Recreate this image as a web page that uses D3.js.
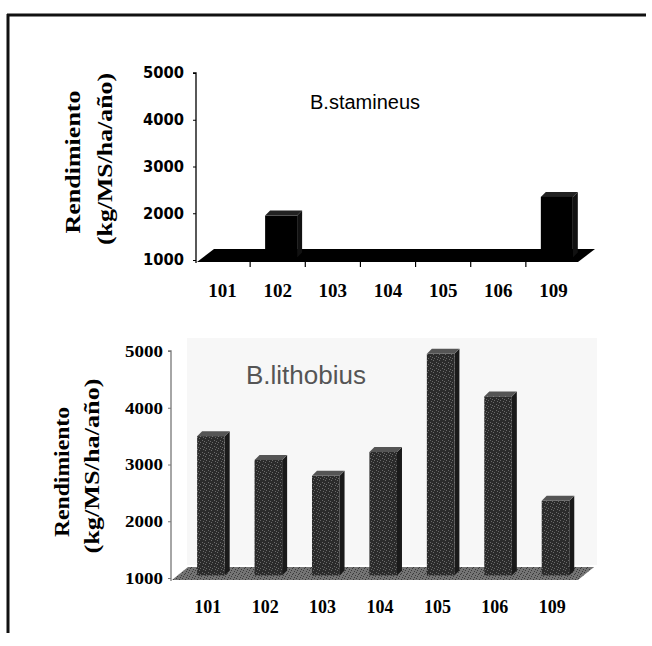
<!DOCTYPE html>
<html>
<head>
<meta charset="utf-8">
<script src="https://cdn.jsdelivr.net/npm/d3@7"></script>
<style>
  body { margin: 0; background: #fff; }
  svg { display: block; }
  .axis-title { font-family: "Liberation Serif", serif; font-weight: bold; font-size: 20px; }
  .chart-title { font-family: "Liberation Sans", Arial, sans-serif; }
</style>
</head>
<body>
<svg id="chart" width="652" height="646"></svg>
<script>
// data
var categories = ["101", "102", "103", "104", "105", "106", "109"];
var stamineusValues = [1000, 1950, 1000, 1000, 1000, 1000, 2350];
var lithobiusValues = [3500, 3080, 2800, 3220, 4950, 4200, 2360];
var yTicks = [1000, 2000, 3000, 4000, 5000];
var yLabelLines = ["Rendimiento", "(kg/MS/ha/año)"];

var svg = d3.select("#chart");

// texture patterns (fixed dots, just for the print look)
var defs = svg.append("defs");
function speckle(id, base, dot, dots) {
  var p = defs.append("pattern").attr("id", id)
    .attr("patternUnits", "userSpaceOnUse").attr("width", 6).attr("height", 6);
  p.append("rect").attr("width", 6).attr("height", 6).attr("fill", base);
  dots.forEach(function(d) {
    p.append("rect").attr("x", d[0]).attr("y", d[1]).attr("width", 1).attr("height", 1).attr("fill", dot);
  });
}
speckle("barTex", "#2b2b2b", "#6a6a6a", [[1, 0], [4, 2], [2, 4], [5, 5], [0, 3]]);
speckle("floorTex", "#747474", "#3a3a3a", [[0, 1], [3, 0], [5, 3], [2, 2], [1, 5], [4, 4]]);

// outer frame
svg.append("line").attr("x1", 7).attr("x2", 646).attr("y1", 15).attr("y2", 15)
  .attr("stroke", "#111").attr("stroke-width", 3);
svg.append("line").attr("x1", 8).attr("x2", 8).attr("y1", 14).attr("y2", 633)
  .attr("stroke", "#111").attr("stroke-width", 3);

function drawPanel(cfg) {
  var g = svg.append("g");
  var y = d3.scaleLinear().domain([1000, 5000]).range([cfg.yBottom, cfg.yTop]);
  var x = d3.scaleBand().domain(categories).range(cfg.xRange).paddingInner(cfg.pad).paddingOuter(cfg.pad / 2);
  var dx = cfg.depth[0], dy = cfg.depth[1];
  var y0 = y(1000);

  if (cfg.wall) {
    g.append("rect").attr("x", cfg.axisX + dx).attr("y", cfg.yTop + dy)
      .attr("width", cfg.xRange[1] - cfg.axisX).attr("height", y0 - cfg.yTop)
      .attr("fill", cfg.wall);
  }

  // floor
  var fx0 = cfg.axisX + 1, fx1 = cfg.xRange[1] - 3;
  var floorPts = [[fx0, y0 + 2], [fx0 + dx, y0 + 2 + dy], [fx1 + dx, y0 + 2 + dy], [fx1, y0 + 2]];
  g.append("polygon").attr("points", floorPts.map(function(p) { return p.join(","); }).join(" "))
    .attr("fill", cfg.floorFill);

  // bars
  var bx = dx * 0.2, by = dy * 0.2, sx = 5, sy = -5;
  cfg.values.forEach(function(v, i) {
    if (v <= 1000) return;
    var left = x(categories[i]) + bx, w = x.bandwidth();
    var top = y(v), bottom = y0 + by;
    g.append("polygon")
      .attr("points", [[left + w, top], [left + w + sx, top + sy], [left + w + sx, bottom + sy], [left + w, bottom]].join(" "))
      .attr("fill", cfg.sideFill);
    g.append("polygon")
      .attr("points", [[left, top], [left + sx, top + sy], [left + w + sx, top + sy], [left + w, top]].join(" "))
      .attr("fill", cfg.topFill);
    g.append("rect").attr("x", left).attr("y", top).attr("width", w).attr("height", bottom - top)
      .attr("fill", cfg.barFill);
  });

  // y axis
  var yAxis = d3.axisLeft(y).tickValues(yTicks).tickSize(3).tickPadding(cfg.yPad).tickFormat(d3.format("d"));
  var ya = g.append("g").attr("transform", "translate(" + cfg.axisX + ",0)").call(yAxis);
  ya.select(".domain").attr("stroke", cfg.axisColor).attr("stroke-width", 1.3)
    .attr("d", "M-3," + cfg.yTop + "H0V" + (y0 + 3));
  ya.selectAll(".tick line").attr("stroke", cfg.axisColor);
  ya.selectAll(".tick text").attr("fill", "#000")
    .attr("font-family", cfg.yFont).attr("font-weight", "bold").attr("font-size", cfg.yTickSize)
    .attr("textLength", cfg.yTickLen).attr("lengthAdjust", "spacingAndGlyphs");

  // x labels
  var xa = g.append("g").attr("transform", "translate(0," + (y0 + 2) + ")")
    .call(d3.axisBottom(x).tickSize(0).tickPadding(cfg.xPad));
  xa.select(".domain").remove();
  xa.selectAll(".tick text").attr("fill", "#000")
    .attr("font-family", cfg.xFont).attr("font-weight", "bold").attr("font-size", cfg.xTickSize);
  if (cfg.xTicks) {
    categories.slice(1).forEach(function(c) {
      var xt = x(c) - x.step() * x.paddingInner() / 2;
      g.append("line").attr("x1", xt).attr("x2", xt).attr("y1", y0 + 2).attr("y2", y0 + 7)
        .attr("stroke", "#000").attr("stroke-width", 1.2);
    });
  }

  // titles
  g.append("text").attr("class", "chart-title").attr("x", cfg.titlePos[0]).attr("y", cfg.titlePos[1])
    .attr("font-size", cfg.titleSize).attr("fill", cfg.titleColor).text(cfg.title);
  yLabelLines.forEach(function(t, i) {
    var l = cfg.labels[i];
    g.append("text").attr("class", "axis-title").attr("text-anchor", "middle")
      .attr("transform", "translate(" + l[0] + "," + l[1] + ") rotate(-90)")
      .attr("textLength", l[2]).attr("lengthAdjust", "spacingAndGlyphs")
      .text(t);
  });
}

drawPanel({
  values: stamineusValues, title: "B.stamineus", titlePos: [310, 109], titleColor: "#000", titleSize: 20,
  axisX: 196, yTop: 73, yBottom: 260, xRange: [195, 581], pad: 0.42, depth: [17, -13],
  floorFill: "#000", barFill: "#000", sideFill: "#111", topFill: "#222", axisColor: "#000",
  yFont: "DejaVu Sans", yTickSize: 15, yTickLen: 41, yPad: 9,
  xFont: "Liberation Serif", xTickSize: 19, xPad: 22, xTicks: true,
  labels: [[80, 162, 143], [112, 159, 172]]
});

drawPanel({
  values: lithobiusValues, title: "B.lithobius", titlePos: [246, 384], titleColor: "#555", titleSize: 26,
  axisX: 171, yTop: 351, yBottom: 578, xRange: [179, 581], pad: 0.52, depth: [16, -13],
  floorFill: "url(#floorTex)", barFill: "url(#barTex)", sideFill: "#1a1a1a", topFill: "#555",
  axisColor: "#777", wall: "#f7f7f7",
  yFont: "Liberation Serif", yTickSize: 17, yTickLen: 38, yPad: 5,
  xFont: "Liberation Serif", xTickSize: 18, xPad: 20, xTicks: false,
  labels: [[69, 472, 130], [99, 466, 175]]
});
</script>
</body>
</html>
